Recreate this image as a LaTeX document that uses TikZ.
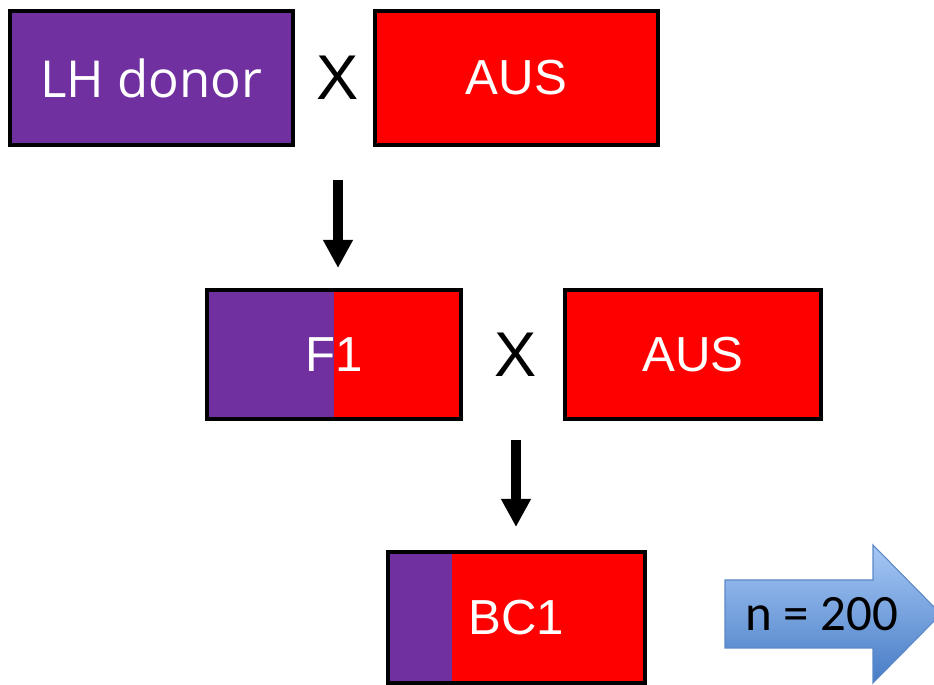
\documentclass[tikz,border=0pt]{standalone}
\usepackage{fontspec}
\setmainfont{Liberation Sans}
\newfontfamily\donorfont{Open Sans}
\newfontfamily\countfont{Carlito}
\usetikzlibrary{positioning,arrows.meta}
\definecolor{lhpurple}{HTML}{7030A0}
\definecolor{ausred}{HTML}{FF0000}
\definecolor{arrowtop}{HTML}{A6C8F5}
\definecolor{arrowbot}{HTML}{477CC6}
\definecolor{arrowedge}{HTML}{5A88C6}

\begin{document}
\begin{tikzpicture}[
    x=0.02cm, y=-0.02cm,
    parent/.style={draw, line width=2.3pt, minimum width=5.66cm, minimum height=2.68cm,
        text=white, font=\fontsize{28}{32}\selectfont, inner sep=0pt},
    cross/.style={font=\fontsize{36}{40}\selectfont},
    arrow/.style={-{Triangle[width=0.56cm, length=0.56cm]}, line width=0.2cm}
]
    \useasboundingbox (0,0) rectangle (934,685);

    % first cross
    \node[parent, fill=lhpurple, font=\donorfont\fontsize{29}{33}\selectfont] (lh) at (151.5,78) {LH donor};
    \node[cross] (x1) at (338,78) {X};
    \node[parent, fill=ausred] (aus1) at (516.5,78) {AUS};

    % backcross
    \node[parent, fill=ausred, minimum width=5.08cm, minimum height=2.58cm,
        path picture={\fill[lhpurple] (path picture bounding box.south west) rectangle (path picture bounding box.north);}]
        (f1) at (334,354.5) {F1};
    \node[cross] (x2) at (516,355) {X};
    \node[parent, fill=ausred, minimum width=5.12cm, minimum height=2.58cm] (aus2) at (693,354.5) {AUS};

    % BC1 population
    \node[parent, fill=ausred, minimum width=5.14cm, minimum height=2.62cm,
        path picture={\fill[lhpurple] (path picture bounding box.south west) rectangle ([xshift=1.28cm]path picture bounding box.north west);}]
        (bc1) at (516.5,617.5) {BC1};

    \draw[arrow, shorten <=0.66cm, shorten >=0.4cm] (x1 |- lh.south) -- (x1 |- f1.north);
    \draw[arrow, shorten <=0.38cm, shorten >=0.46cm] (x2 |- f1.south) -- (x2 |- bc1.north);

    % population size arrow
    \shade[top color=arrowtop, bottom color=arrowbot, draw=arrowedge, line width=0.6pt]
        (725,580) -- (873,580) -- (873,545) -- (941,614) -- (873,683) -- (873,648) -- (725,648) -- cycle;
    \node[font=\countfont\fontsize{29}{33}\selectfont] (n200) at (822,614) {n = 200};
\end{tikzpicture}
\end{document}
